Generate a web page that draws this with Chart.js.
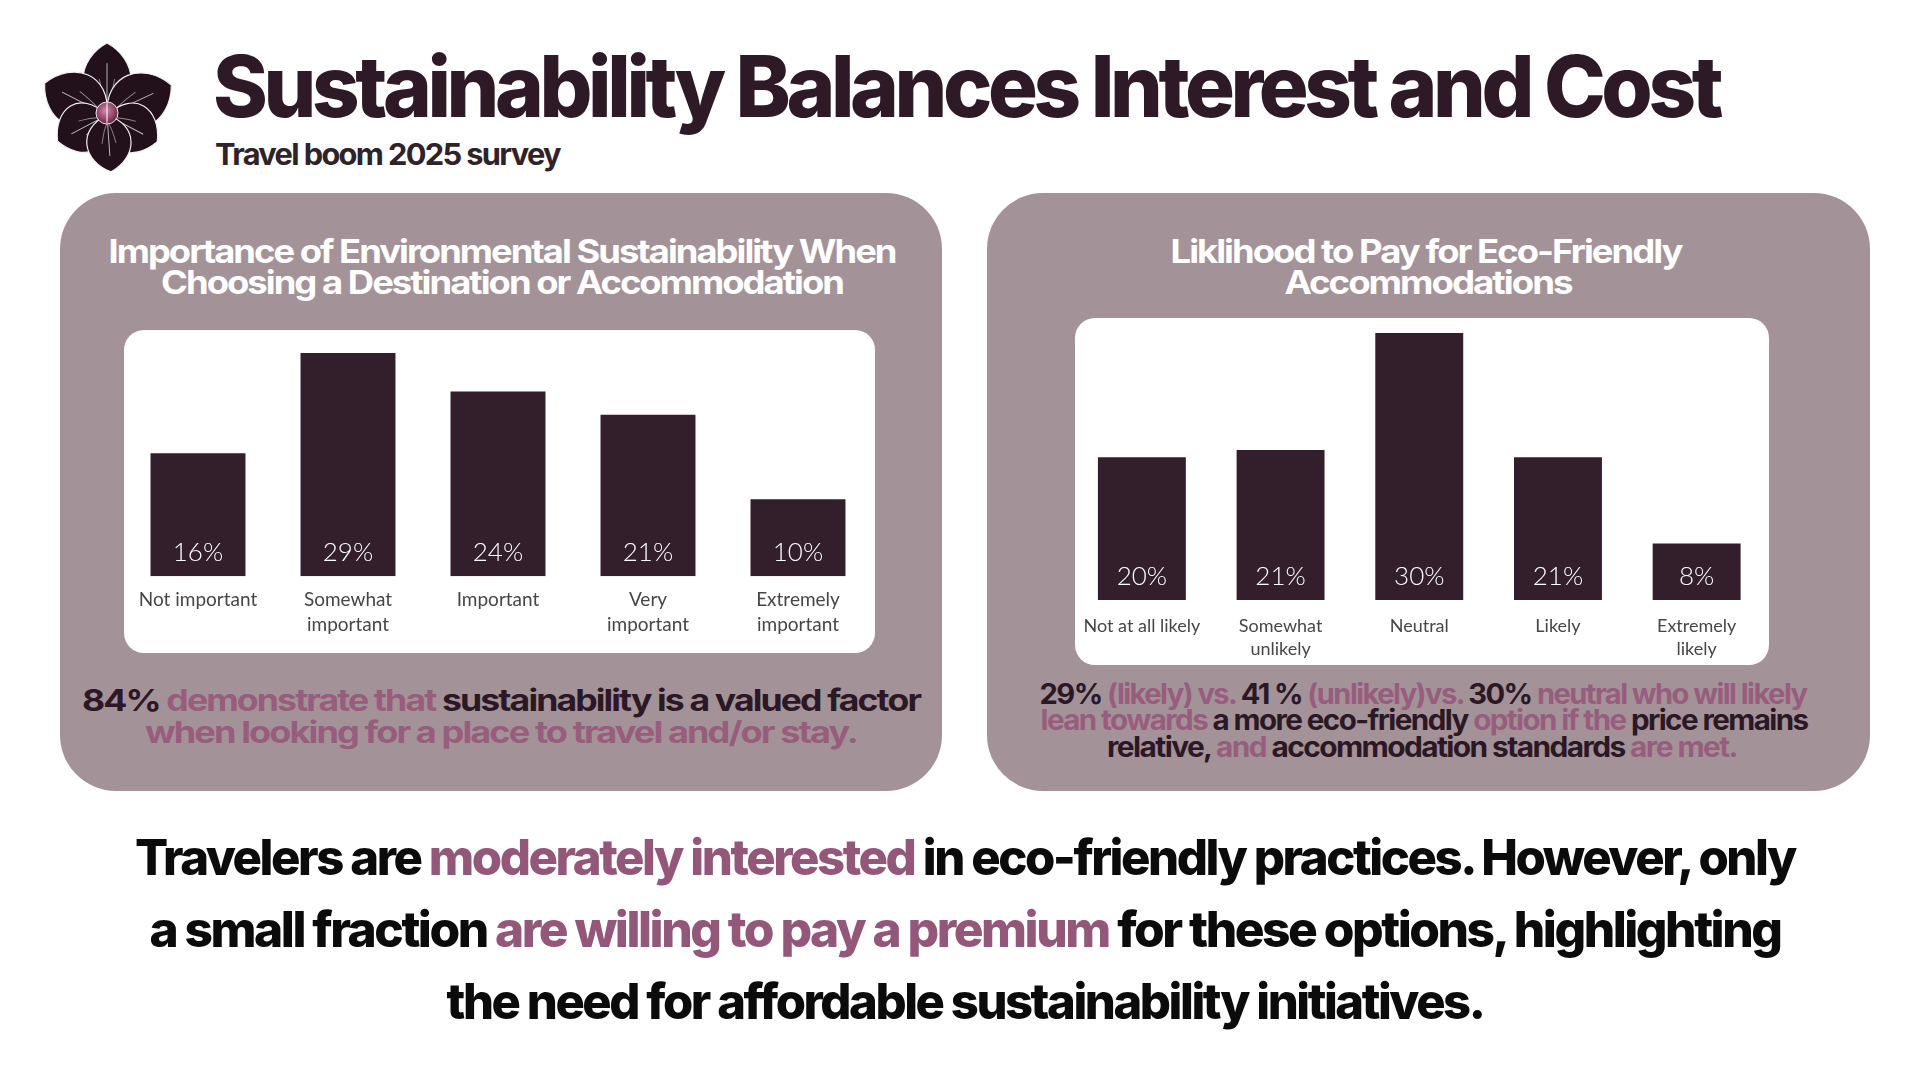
<!DOCTYPE html>
<html>
<head>
<meta charset="utf-8">
<script src="https://cdn.jsdelivr.net/npm/chart.js@4.4.1/dist/chart.umd.min.js"></script>
<style>
  html, body { margin: 0; padding: 0; background: #ffffff; }
  #stage { position: relative; width: 1920px; height: 1080px; overflow: hidden; background: #ffffff; }
  #bg { position: absolute; left: 0; top: 0; }
  #bg text { white-space: pre; font-family: Inter, "Noto Sans", sans-serif; }
  .cv { position: absolute; }
</style>
</head>
<body>
<div id="stage">
  <svg id="bg" width="1920" height="1080" viewBox="0 0 1920 1080" xmlns="http://www.w3.org/2000/svg">
    <defs>
      <radialGradient id="petalGrad" gradientUnits="userSpaceOnUse" cx="107" cy="115" r="75">
        <stop offset="0" stop-color="#5b3a4c"/>
        <stop offset="0.45" stop-color="#3a2231"/>
        <stop offset="1" stop-color="#22111b"/>
      </radialGradient>
      <radialGradient id="centerGrad" cx="0.45" cy="0.4" r="0.6">
        <stop offset="0" stop-color="#d18aa6"/>
        <stop offset="0.6" stop-color="#9a4a6c"/>
        <stop offset="1" stop-color="#5e2442"/>
      </radialGradient>
    </defs>
    <!-- panels -->
    <rect x="60" y="193" width="882" height="598" rx="56" fill="#a39399"/>
    <rect x="987" y="193" width="883" height="598" rx="56" fill="#a39399"/>
    <rect x="124" y="330" width="751" height="323" rx="20" fill="#ffffff"/>
    <rect x="1075" y="318" width="694" height="347" rx="20" fill="#ffffff"/>
    <g id="logo"></g>
    <g id="texts"></g>
  </svg>
  <div class="cv" style="left:123px;top:330px;width:750px;height:323px;"><canvas id="chartImportance"></canvas></div>
  <div class="cv" style="left:1069px;top:318px;width:697px;height:357px;"><canvas id="chartLikelihood"></canvas></div>
</div>

<script>
// ---------------- DATA ----------------
const importanceCategories = [["Not important"], ["Somewhat", "important"], ["Important"], ["Very", "important"], ["Extremely", "important"]];
const importanceValues = [16, 29, 24, 21, 10];

const likelihoodCategories = [["Not at all likely"], ["Somewhat", "unlikely"], ["Neutral"], ["Likely"], ["Extremely", "likely"]];
const likelihoodPercents = [20, 21, 30, 21, 8];          // printed on the bars
const likelihoodBarHeights = [20, 21, 37.4, 20, 7.9];     // drawn bar heights

// ---------------- COLORS ----------------
const DARK = "#2d1a26";
const ACCENT = "#93577a";
const CAP_DARK = "#2c1825";
const CAP_ACCENT = "#985d7d";
const BAR = "#331f2c";

// ---------------- SVG TEXT ----------------
const SVGNS = "http://www.w3.org/2000/svg";
const textsG = document.getElementById("texts");
function textLine(x, y, size, weight, anchor, length, segs, spacing) {
  const t = document.createElementNS(SVGNS, "text");
  t.setAttribute("x", x);
  t.setAttribute("y", y);
  t.setAttribute("font-size", size);
  t.setAttribute("font-weight", weight);
  t.setAttribute("text-anchor", anchor);
  if (spacing !== undefined) t.setAttribute("letter-spacing", spacing);
  if (length) {
    t.setAttribute("textLength", length);
    t.setAttribute("lengthAdjust", "spacingAndGlyphs");
  }
  segs.forEach(([s, c]) => {
    const ts = document.createElementNS(SVGNS, "tspan");
    ts.setAttribute("fill", c);
    ts.textContent = s;
    t.appendChild(ts);
  });
  textsG.appendChild(t);
}

// header
textLine(213, 117, 85, 800, "start", 1506, [["Sustainability Balances Interest and Cost", DARK]], -4.5);
textLine(215, 165, 30, 700, "start", 345, [["Travel boom 2025 survey", "#2f2229"]], -1.6);

// panel titles
textLine(502, 263, 33, 700, "middle", 787, [["Importance of Environmental Sustainability When", "#ffffff"]], -1.8);
textLine(502, 294, 33, 700, "middle", 682, [["Choosing a Destination or Accommodation", "#ffffff"]], -1.8);
textLine(1426, 263, 33, 700, "middle", 511, [["Liklihood to Pay for Eco-Friendly", "#ffffff"]], -1.8);
textLine(1428, 294, 33, 700, "middle", 287, [["Accommodations", "#ffffff"]], -1.8);

// left caption
textLine(501, 711, 30, 700, "middle", 838, [["84%", CAP_DARK], [" demonstrate that ", CAP_ACCENT], ["sustainability is a valued factor", CAP_DARK]], -1.6);
textLine(501, 743, 30, 700, "middle", 712, [["when looking for a place to travel and/or stay.", CAP_ACCENT]], -1.6);

// right caption
textLine(1423, 704, 28, 700, "middle", 767, [["29%", CAP_DARK], [" (likely) vs.", CAP_ACCENT], [" 41 %", CAP_DARK], [" (unlikely)vs.", CAP_ACCENT], [" 30%", CAP_DARK], [" neutral who will likely", CAP_ACCENT]], -1.5);
textLine(1424, 730, 28, 700, "middle", 767, [["lean towards", CAP_ACCENT], [" a more eco-friendly", CAP_DARK], [" option if the", CAP_ACCENT], [" price remains", CAP_DARK]], -1.5);
textLine(1422, 757, 28, 700, "middle", 630, [["relative,", CAP_DARK], [" and", CAP_ACCENT], [" accommodation standards", CAP_DARK], [" are met.", CAP_ACCENT]], -1.5);

// bottom takeaway
textLine(965, 875, 50, 800, "middle", 1660, [["Travelers are ", "#0b0b0b"], ["moderately interested", ACCENT], [" in eco-friendly practices. However, only", "#0b0b0b"]], -2.5);
textLine(965, 947, 50, 800, "middle", 1631, [["a small fraction ", "#0b0b0b"], ["are willing to pay a premium", ACCENT], [" for these options, highlighting", "#0b0b0b"]], -2.5);
textLine(965, 1019, 50, 800, "middle", 1037, [["the need for affordable sustainability initiatives.", "#0b0b0b"]], -2.5);

// ---------------- LOGO ----------------
(function drawLogo() {
  const g = document.getElementById("logo");
  const cx = 107, cy = 115;
  function petal(angle, L, W) {
    const p = document.createElementNS(SVGNS, "path");
    const d = `M0,0 C${W * 0.72},${-L * 0.22} ${W * 0.62},${-L * 0.78} 0,${-L} C${-W * 0.62},${-L * 0.78} ${-W * 0.72},${-L * 0.22} 0,0 Z`;
    p.setAttribute("d", d);
    p.setAttribute("transform", `translate(${cx},${cy}) rotate(${angle})`);
    p.setAttribute("fill", "url(#petalGrad)");
    p.setAttribute("stroke", "#f3eef1");
    p.setAttribute("stroke-width", "1.2");
    g.appendChild(p);
    [-0.16, 0, 0.16].forEach((f, k) => {
      const v = document.createElementNS(SVGNS, "path");
      const len = L * (k === 1 ? 0.72 : 0.5);
      v.setAttribute("d", `M0,-6 Q${W * f * 0.6},${-len * 0.5} ${W * f},${-len}`);
      v.setAttribute("transform", `translate(${cx},${cy}) rotate(${angle})`);
      v.setAttribute("stroke", "#ffffff");
      v.setAttribute("stroke-opacity", k === 1 ? "0.75" : "0.5");
      v.setAttribute("stroke-width", "0.9");
      v.setAttribute("fill", "none");
      g.appendChild(v);
    });
  }
  petal(0, 72, 48);
  petal(-63, 70, 54);
  petal(65, 71, 54);
  petal(-118, 56, 50);
  petal(118, 57, 50);
  petal(176, 57, 44);
  const c = document.createElementNS(SVGNS, "circle");
  c.setAttribute("cx", cx); c.setAttribute("cy", cy - 2); c.setAttribute("r", 11);
  c.setAttribute("fill", "url(#centerGrad)");
  c.setAttribute("stroke", "#f1e6ec"); c.setAttribute("stroke-width", "1");
  g.appendChild(c);
  const l = document.createElementNS(SVGNS, "line");
  l.setAttribute("x1", cx); l.setAttribute("y1", cy - 12); l.setAttribute("x2", cx); l.setAttribute("y2", cy + 8);
  l.setAttribute("stroke", "#ffffff"); l.setAttribute("stroke-width", "1.2"); l.setAttribute("stroke-opacity", "0.85");
  g.appendChild(l);
})();

// ---------------- CHARTS ----------------
const valueLabelPlugin = {
  id: "valueLabels",
  afterDatasetsDraw(chart, args, opts) {
    const ctx = chart.ctx;
    const meta = chart.getDatasetMeta(0);
    ctx.save();
    ctx.fillStyle = "#ffffff";
    ctx.font = opts.font;
    ctx.textAlign = "center";
    ctx.textBaseline = "alphabetic";
    meta.data.forEach((bar, i) => {
      ctx.fillText(opts.labels[i], bar.x, bar.base - opts.offset);
    });
    ctx.restore();
  }
};

function makeChart(id, categories, values, labels, yMax, barPct, tickSize, tickLH, tickPad, padBottom) {
  return new Chart(document.getElementById(id), {
    type: "bar",
    data: {
      labels: categories,
      datasets: [{
        data: values,
        backgroundColor: BAR,
        borderWidth: 0,
        barPercentage: barPct,
        categoryPercentage: 1.0
      }]
    },
    options: {
      responsive: true,
      maintainAspectRatio: false,
      animation: false,
      layout: { padding: { top: 0, left: 0, right: 0, bottom: padBottom } },
      plugins: {
        legend: { display: false },
        tooltip: { enabled: false },
        valueLabels: { labels: labels, font: "300 26px Lato", offset: 15 }
      },
      scales: {
        x: {
          grid: { display: false, drawTicks: false },
          border: { display: false },
          ticks: {
            color: "#464646",
            font: { family: "Lato", size: tickSize, lineHeight: tickLH },
            padding: tickPad,
            maxRotation: 0,
            minRotation: 0,
            autoSkip: false
          }
        },
        y: { display: false, min: 0, max: yMax }
      }
    },
    plugins: [valueLabelPlugin]
  });
}

makeChart("chartImportance", importanceCategories, importanceValues,
  importanceValues.map(v => v + "%"), 32, 0.633, 19, 1.32, 10.5, 5.5);
makeChart("chartLikelihood", likelihoodCategories, likelihoodBarHeights,
  likelihoodPercents.map(v => v + "%"), 39.5, 0.634, 18, 1.28, 14.5, 0);
</script>
</body>
</html>
